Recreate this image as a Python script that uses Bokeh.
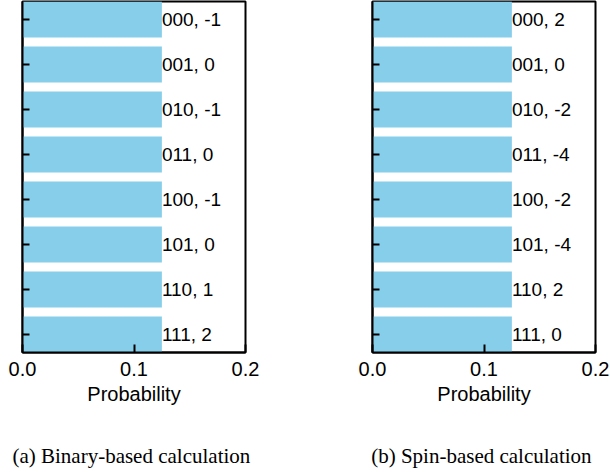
from bokeh.plotting import figure
from bokeh.layouts import row
from bokeh.models import (Range1d, FixedTicker, PrintfTickFormatter, LinearAxis, ColumnDataSource,
                          CustomLabelingPolicy)
from bokeh.core.properties import value
from bokeh.embed import file_html
from bokeh.resources import INLINE

states = ["000", "001", "010", "011", "100", "101", "110", "111"]
prob_binary = [0.125, 0.125, 0.125, 0.125, 0.125, 0.125, 0.125, 0.125]
prob_spin = [0.125, 0.125, 0.125, 0.125, 0.125, 0.125, 0.125, 0.125]
energy_binary = [-1, 0, -1, 0, -1, 0, 1, 2]
energy_spin = [2, 0, -2, -4, -2, -4, 2, 0]
x_ticks = [0.0, 0.1, 0.2]
captions = ["(a)  Binary-based calculation", "(b)  Spin-based calculation"]

SANS = "Liberation Sans"
SERIF = "Liberation Serif"
BAR = "#87CEEB"


def make_panel(probs, energies, caption, width, bl, br):
    idx = list(range(len(states)))
    labels = [f"{s}, {e}" for s, e in zip(states, energies)]
    src = ColumnDataSource(dict(y=idx, p=probs, lab=labels))
    p = figure(width=width, height=470, output_backend="svg", toolbar_location=None,
               x_range=Range1d(0, 0.2), y_range=Range1d(7.4, -0.4),
               min_border_left=bl, min_border_right=br, min_border_top=1, min_border_bottom=0)
    p.hbar(y="y", right="p", left=0, height=0.8, source=src, color=BAR, line_color=None)
    p.text(x="p", y="y", text="lab", source=src, text_align="left", text_baseline="middle",
           text_font=value(SANS), text_font_size="19px", text_color="black")
    p.grid.visible = False
    p.outline_line_color = "black"
    p.outline_line_width = 2
    p.outline_line_alpha = 1

    xa = p.xaxis[0]
    xa.ticker = FixedTicker(ticks=x_ticks, minor_ticks=[])
    xa.formatter = PrintfTickFormatter(format="%.1f")
    xa.axis_label = "Probability"
    xa.axis_label_text_font = SANS
    xa.axis_label_text_font_style = "normal"
    xa.axis_label_text_font_size = "20px"
    xa.axis_label_text_color = "black"
    xa.axis_label_standoff = 4
    xa.major_label_text_font = SANS
    xa.major_label_text_font_size = "20px"
    xa.major_label_text_color = "black"
    xa.major_label_standoff = 9
    xa.major_tick_in = 8
    xa.major_tick_out = 0
    xa.minor_tick_in = 0
    xa.minor_tick_out = 0
    xa.axis_line_width = 2
    xa.axis_line_color = "black"
    xa.major_tick_line_width = 2
    xa.major_tick_line_color = "black"

    ya = p.yaxis[0]
    ya.ticker = FixedTicker(ticks=idx, minor_ticks=[])
    ya.major_label_policy = CustomLabelingPolicy(code="return new Set()")
    ya.major_label_standoff = 0
    ya.major_tick_in = 7
    ya.major_tick_out = 0
    ya.minor_tick_in = 0
    ya.minor_tick_out = 0
    ya.axis_line_width = 2
    ya.axis_line_color = "black"
    ya.major_tick_line_width = 2
    ya.major_tick_line_color = "black"

    cap = LinearAxis(ticker=FixedTicker(ticks=[], minor_ticks=[]),
                     axis_line_color=None, major_tick_line_color=None, minor_tick_line_color=None,
                     major_tick_in=0, major_tick_out=0, minor_tick_in=0, minor_tick_out=0,
                     major_label_standoff=0, axis_label=caption, axis_label_standoff=36,
                     axis_label_text_font=SERIF, axis_label_text_font_style="normal",
                     axis_label_text_font_size="21px", axis_label_text_color="black")
    p.add_layout(cap, "below")
    return p


p1 = make_panel(prob_binary, energy_binary, captions[0], 305, 22, 60)
p2 = make_panel(prob_spin, energy_spin, captions[1], 305, 67, 15)
layout = row(p1, p2, spacing=0)

open("out.html", "w").write(file_html(layout, INLINE))
